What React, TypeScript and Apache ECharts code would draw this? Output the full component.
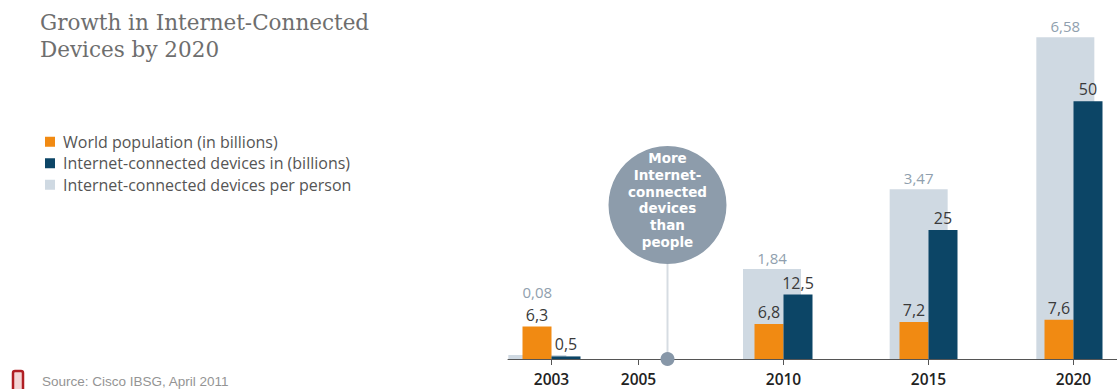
import React, { useEffect, useRef } from 'react';
import * as echarts from 'echarts';

// Axis slots: each slot is one band on the category axis (spacers keep the reference's uneven spacing)
const axisSlots = ['pad-start', '2003', 'gap-1', 'gap-2', '2005', '2006', '2007', '2008', '2009', '2010', '2011', '2012', '2013', '2014', '2015', '2016', '2017', '2018', '2019', '2020', 'pad-end'];
const tickYears = ['2003', '2005', '2010', '2015', '2020'];
const barYears = ['2003', '2010', '2015', '2020'];
const worldPopulation = [6.3, 6.8, 7.2, 7.6];
const connectedDevices = [0.5, 12.5, 25, 50];
const devicesPerPerson = [0.08, 1.84, 3.47, 6.58];
const seriesNames = [
  'World population (in billions)',
  'Internet-connected devices in (billions)',
  'Internet-connected devices per person',
];
const milestoneSlot = '2006';
const milestoneLines = ['More', 'Internet-', 'connected', 'devices', 'than', 'people'];
const titleText = 'Growth in Internet-Connected\nDevices by 2020';
const sourceText = 'Source: Cisco IBSG, April 2011';

const ORANGE = '#f18a12';
const NAVY = '#0c4566';
const LIGHT = '#cfd9e2';
const SANS = '"Open Sans", "DejaVu Sans", sans-serif';

const toSlots = (values: number[]) =>
  axisSlots.map((s) => {
    const i = barYears.indexOf(s);
    return i >= 0 ? values[i] : null;
  });

const comma = (p: any) => (p.value == null ? '' : String(p.value).replace('.', ','));

export default function App() {
  const ref = useRef<HTMLDivElement>(null);
  useEffect(() => {
    document.body.style.margin = '0';
    if (!ref.current) return;
    const chart = echarts.init(ref.current, undefined, { renderer: 'svg' });
    const slotW = 616 / axisSlots.length;
    const gridTop = 29;
    const gridH = 330;
    const perPersonData = toSlots(devicesPerPerson).map((v, idx) =>
      v != null && axisSlots[idx] === barYears[0]
        ? { value: v, label: { offset: [0, -52] } }
        : v
    );
    const valueLabel = {
      show: true,
      position: 'top' as const,
      distance: 4,
      color: '#3a3a3a',
      fontFamily: SANS,
      fontSize: 16,
      formatter: comma,
    };
    chart.setOption({
      animation: false,
      title: {
        text: titleText,
        left: 40,
        top: 9,
        padding: 0,
        textStyle: {
          fontFamily: '"DejaVu Serif", serif',
          fontSize: 21.5,
          fontWeight: 'normal',
          color: '#6e6e6e',
          lineHeight: 27,
        },
      },
      legend: {
        data: seriesNames,
        orient: 'vertical',
        left: 45,
        top: 133,
        padding: 0,
        itemWidth: 10,
        itemHeight: 10,
        itemGap: 4,
        icon: 'rect',
        textStyle: {
          fontFamily: SANS,
          fontSize: 16,
          color: '#555',
          lineHeight: 17.5,
          padding: [0, 0, 0, 3],
        },
      },
      grid: [
        { left: 508, top: gridTop, width: 616, height: gridH },
        { left: 508 - slotW / 2, top: gridTop, width: 616, height: gridH },
      ],
      xAxis: [
        {
          type: 'category',
          gridIndex: 0,
          data: axisSlots,
          axisLine: { lineStyle: { color: '#555', width: 1 } },
          axisTick: {
            show: true,
            alignWithLabel: true,
            length: 6,
            interval: (_i: number, v: string) => tickYears.includes(v),
            lineStyle: { color: '#555' },
          },
          axisLabel: {
            interval: (_i: number, v: string) => tickYears.includes(v),
            formatter: (v: string) => (tickYears.includes(v) ? v : ''),
            margin: 12,
            fontFamily: SANS,
            fontSize: 15.5,
            fontWeight: 600,
            color: '#222',
          },
        },
        { type: 'category', gridIndex: 1, data: axisSlots, show: false },
      ],
      yAxis: [
        { type: 'value', gridIndex: 0, min: 0, max: 64, show: false },
        { type: 'value', gridIndex: 1, min: 0, max: 6.75, show: false },
      ],
      series: [
        {
          name: seriesNames[2],
          type: 'bar',
          xAxisIndex: 1,
          yAxisIndex: 1,
          barWidth: 58,
          z: 1,
          itemStyle: { color: LIGHT },
          label: { ...valueLabel, color: '#909fae', fontSize: 15 },
          data: perPersonData,
        },
        {
          name: seriesNames[0],
          type: 'bar',
          xAxisIndex: 0,
          yAxisIndex: 0,
          barWidth: 29,
          barGap: '0%',
          z: 3,
          itemStyle: { color: ORANGE },
          label: valueLabel,
          data: toSlots(worldPopulation),
        },
        {
          name: seriesNames[1],
          type: 'bar',
          xAxisIndex: 0,
          yAxisIndex: 0,
          barWidth: 29,
          barGap: '0%',
          z: 3,
          itemStyle: { color: NAVY },
          label: valueLabel,
          data: toSlots(connectedDevices),
        },
      ],
    });

    const cx = chart.convertToPixel({ xAxisIndex: 0 }, milestoneSlot) as number;
    const baseY = chart.convertToPixel({ yAxisIndex: 0 }, 0) as number;
    const cy = 205;
    const r = 59;
    const lineH = 16.8;
    const firstY = cy - 5 - (lineH * (milestoneLines.length - 1)) / 2;
    chart.setOption({
      graphic: [
        {
          type: 'line',
          z: 5,
          shape: { x1: cx, y1: cy + r, x2: cx, y2: baseY },
          style: { stroke: '#d6dce2', lineWidth: 2 },
        },
        {
          type: 'circle',
          z: 6,
          shape: { cx, cy: baseY, r: 7 },
          style: { fill: '#8797a8' },
        },
        {
          type: 'circle',
          z: 6,
          shape: { cx, cy, r },
          style: { fill: '#8d9cab' },
        },
        ...milestoneLines.map((t, i) => ({
          type: 'text',
          z: 7,
          x: cx,
          y: firstY + i * lineH,
          style: {
            text: t,
            fill: '#ffffff',
            fontFamily: '"DejaVu Sans", sans-serif',
            fontSize: 13.5,
            fontWeight: 'bold',
            align: 'center',
            verticalAlign: 'middle',
          },
        })),
        {
          type: 'rect',
          z: 6,
          shape: { x: 13, y: 371, width: 10, height: 22, r: 2 },
          style: { fill: '#f4d6d6', stroke: '#b01e23', lineWidth: 2.5 },
        },
        {
          type: 'text',
          z: 6,
          x: 42,
          y: 381.5,
          style: {
            text: sourceText,
            fill: '#949494',
            fontFamily: '"Liberation Sans", Arial, sans-serif',
            fontSize: 13.5,
            verticalAlign: 'middle',
          },
        },
      ],
    });

    return () => chart.dispose();
  }, []);
  return <div ref={ref} style={{ width: 1117, height: 389 }} />;
}
